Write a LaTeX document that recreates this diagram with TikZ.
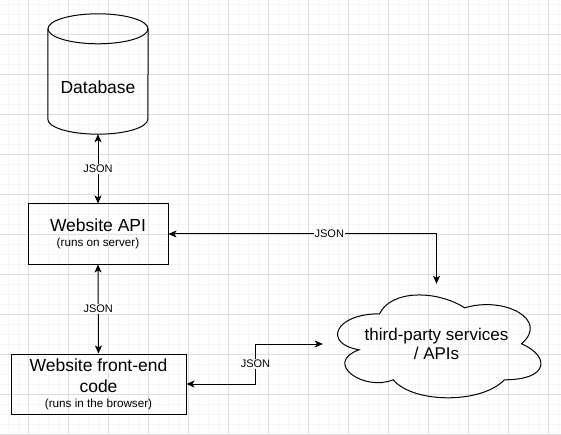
\documentclass[tikz,border=0pt]{standalone}
\usepackage{fontspec}
\setmainfont{Liberation Sans}
\usetikzlibrary{arrows.meta,calc}

\begin{document}
\begin{tikzpicture}[x=1pt, y=-1pt,
    minor/.style={draw=black!4, line width=0.6pt},
    major/.style={draw=black!13, line width=0.8pt},
    box/.style={draw, line width=1pt, inner sep=0pt, align=center},
    conn/.style={line width=1pt, {Stealth[length=8pt,width=7pt,inset=2pt]}-{Stealth[length=8pt,width=7pt,inset=2pt]}},
    lbl/.style={fill=white, inner sep=1pt, font=\fontsize{11}{13}\selectfont}]
    \useasboundingbox (0,0) rectangle (561,435);
    \fill[white] (0,0) rectangle (561,435);
    % background grid
    \foreach \gx in {8,18,...,558} \draw[minor] (\gx,0) -- (\gx,435);
    \foreach \gy in {4,14,...,434} \draw[minor] (0,\gy) -- (561,\gy);
    \foreach \gx in {28,68,...,548} \draw[major] (\gx,0) -- (\gx,435);
    \foreach \gy in {34,74,...,434} \draw[major] (0,\gy) -- (561,\gy);

    % database cylinder
    \node[minimum width=100pt, minimum height=120pt, inner sep=0pt] (db) at (98,74) {};
    \node (dbtext) at ($(db.center)+(0,13)$) {\fontsize{17.5}{20}\selectfont Database};
    \draw[line width=1pt] ($(db.north)+(0,15)$) ellipse[x radius=50pt, y radius=15pt];
    \draw[line width=1pt] ($(db.north west)+(0,15)$) -- ($(db.south west)+(0,-15)$)
        arc[start angle=180, end angle=360, x radius=50pt, y radius=15pt]
        -- ($(db.north east)+(0,15)$);

    \node[box, minimum width=140pt, minimum height=60pt] (api) at (98,234)
        {{\fontsize{17.5}{20}\selectfont Website API}\\[2.5pt]{\fontsize{11.7}{14}\selectfont (runs on server)}};
    \node[box, minimum width=175pt, minimum height=60pt] (front) at (98.5,384)
        {{\fontsize{17.5}{21}\selectfont Website front-end}\\[7pt]{\fontsize{17.5}{21}\selectfont code}\\[3pt]{\fontsize{11.7}{14}\selectfont (runs in the browser)}};

    % third-party cloud
    \node[minimum width=227pt, minimum height=120pt, inner sep=0pt, align=center] (cloud) at (436.5,344)
        {\fontsize{17}{21}\selectfont third-party services\\[2pt]\fontsize{17}{21}\selectfont / APIs};
    \begin{scope}[shift={(cloud.north west)}, x=2.27pt, y=-1.2pt]
        \draw[line width=1pt] (25,25) .. controls (5,25) and (0,50) .. (16,55)
            .. controls (0,66) and (18,90) .. (31,80)
            .. controls (40,100) and (70,100) .. (80,80)
            .. controls (100,80) and (100,60) .. (87.5,50)
            .. controls (100,30) and (80,10) .. (62.5,20)
            .. controls (50,5) and (30,5) .. (25,25) -- cycle;
    \end{scope}

    % connectors
    \draw[conn] (db.south) -- node[lbl]{JSON} (api.north);
    \draw[conn] (api.south) -- node[lbl]{JSON} (front.north);
    \draw[conn] (api.east) -| node[lbl, pos=0.3]{JSON} (cloud.north);
    \draw[conn] (front.east) -- ++(69,0) |- node[lbl, pos=0.25]{JSON} (cloud.west);
\end{tikzpicture}
\end{document}
